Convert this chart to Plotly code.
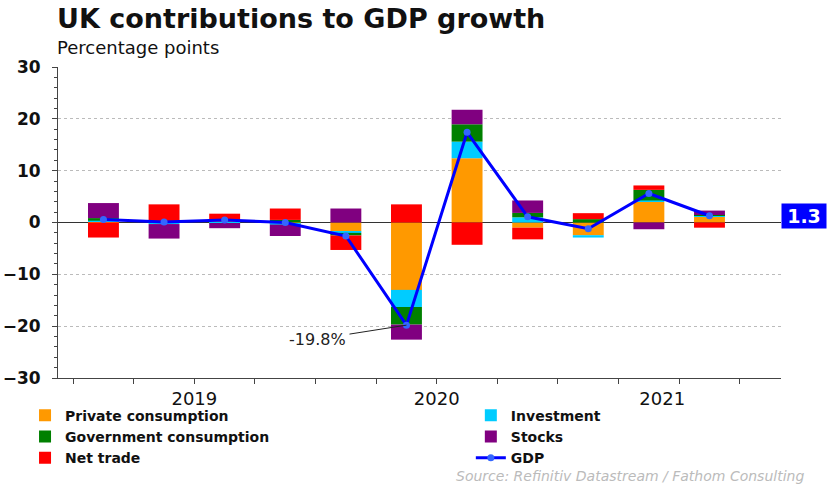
import plotly.graph_objects as go

# Quarterly contributions to UK GDP growth (percentage points), Q1 2019 - Q3 2021
quarters = ["2019 Q1", "2019 Q2", "2019 Q3", "2019 Q4",
            "2020 Q1", "2020 Q2", "2020 Q3", "2020 Q4",
            "2021 Q1", "2021 Q2", "2021 Q3"]
private_consumption = [0.1, 0.0, 0.3, -0.2, -1.7, -13.0, 12.4, -1.0, -2.45, 4.05, 1.1]
investment = [0.25, -0.3, -0.1, -0.2, -0.3, -3.3, 3.2, 1.0, -0.45, 0.2, 0.2]
government_consumption = [0.5, 0.1, 0.1, 0.5, -0.5, -3.4, 3.35, 0.85, 0.65, 2.05, 0.15]
stocks = [2.9, -2.8, -1.0, -2.2, 2.7, -2.9, 2.8, 2.4, 0.0, -1.3, 0.85]
net_trade = [-2.9, 3.4, 1.3, 2.2, -2.8, 3.5, -4.3, -2.25, 1.15, 0.85, -1.0]
gdp = [0.6, 0.1, 0.5, 0.0, -2.6, -19.8, 17.4, 1.1, -1.2, 5.6, 1.3]

year_labels = ["2019", "2020", "2021"]
year_label_pos = [2.0, 6.0, 9.72]

# quarter k is drawn centred on k + 0.5 (quarter boundaries fall on integers)
xpos = [i + 0.5 for i in range(len(quarters))]

FONT = "DejaVu Sans"

# (name, values, colour, legend column)
series = [
    ("Private consumption", private_consumption, "#FF9900", "legend"),
    ("Investment", investment, "#00CCFF", "legend2"),
    ("Government consumption", government_consumption, "#008000", "legend"),
    ("Stocks", stocks, "#800080", "legend2"),
    ("Net trade", net_trade, "#FF0000", "legend"),
]

fig = go.Figure()
for name, vals, col, leg in series:
    fig.add_trace(go.Bar(
        x=xpos, y=vals, name=name, width=0.51, legend=leg,
        marker=dict(color=col, line=dict(width=0)),
        customdata=quarters,
        hovertemplate="%{customdata}<br>" + name + ": %{y}<extra></extra>",
    ))

fig.add_trace(go.Scatter(
    x=xpos, y=gdp, name="GDP", mode="lines+markers", legend="legend2",
    line=dict(color="#0000FF", width=3),
    marker=dict(color="#3366FF", size=7),
    customdata=quarters,
    hovertemplate="%{customdata}<br>GDP: %{y}<extra></extra>",
))

# trough callout
i_min = gdp.index(min(gdp))
fig.add_annotation(
    x=xpos[i_min], y=gdp[i_min], text=f"{gdp[i_min]}%",
    showarrow=True, arrowhead=0, arrowwidth=1, arrowcolor="#222222",
    ax=-89, ay=14, borderpad=3,
    font=dict(family=FONT, size=16, color="#222222"),
)

# latest value tag on the right edge
fig.add_annotation(
    xref="paper", x=1, xanchor="left", yref="y", y=gdp[-1], yanchor="middle",
    text=f"<b>{gdp[-1]:.1f}</b>", showarrow=False,
    bgcolor="#0000FF", font=dict(family=FONT, size=19, color="white"),
    width=44, height=24, borderpad=0, align="center",
)

# title and subtitle
fig.add_annotation(
    xref="paper", x=0, xanchor="left", xshift=-3,
    yref="paper", y=1, yanchor="middle", yshift=49,
    text="<b>UK contributions to GDP growth</b>", showarrow=False,
    font=dict(family=FONT, size=27, color="#111111"),
)
fig.add_annotation(
    xref="paper", x=0, xanchor="left", xshift=-3,
    yref="paper", y=1, yanchor="middle", yshift=20,
    text="Percentage points", showarrow=False,
    font=dict(family=FONT, size=18, color="#111111"),
)

# source line
fig.add_annotation(
    xref="paper", x=1.034, xanchor="right", yref="paper", y=-0.315, yanchor="middle",
    text="Source: Refinitiv Datastream / Fathom Consulting", showarrow=False,
    font=dict(family=FONT, size=14, color="#BBBBBB", style="italic"),
)

legend_font = dict(family=FONT, size=14, color="#111111", weight="bold")
fig.update_layout(
    width=835, height=486,
    margin=dict(l=58, r=54, t=67, b=108, pad=0, autoexpand=False),
    barmode="relative",
    plot_bgcolor="white", paper_bgcolor="white",
    font=dict(family=FONT, color="#111111"),
    showlegend=True,
    legend=dict(
        orientation="v", x=-0.0456, xanchor="left", y=-0.070, yanchor="top",
        font=legend_font, bgcolor="rgba(0,0,0,0)", tracegroupgap=0,
        traceorder="normal",
    ),
    legend2=dict(
        orientation="v", x=0.571, xanchor="left", y=-0.070, yanchor="top",
        font=legend_font, bgcolor="rgba(0,0,0,0)", tracegroupgap=0,
        traceorder="normal",
    ),
)

fig.update_xaxes(
    range=[-0.25, 11.68], automargin=False,
    tickmode="array", tickvals=year_label_pos, ticktext=year_labels,
    ticks="", ticklen=0,
    tickfont=dict(family=FONT, size=18, color="#111111"),
    ticklabelstandoff=4,
    showgrid=False, zeroline=False,
    showline=True, linecolor="#444444", linewidth=1,
    minor=dict(tickmode="array", tickvals=list(range(12)), ticks="outside",
               ticklen=5, tickcolor="#444444", tickwidth=1, showgrid=False),
    fixedrange=True,
)
fig.update_yaxes(
    range=[-30, 30], tickmode="linear", tick0=0, dtick=10, automargin=False,
    ticks="outside", ticklen=5, tickcolor="#444444", tickwidth=1,
    tickfont=dict(family=FONT, size=17, color="#111111", weight="bold"),
    ticklabelstandoff=8,
    showgrid=True, gridcolor="#BBBBBB", griddash="dot", gridwidth=1,
    zeroline=True, zerolinecolor="#333333", zerolinewidth=1,
    showline=True, linecolor="#444444", linewidth=1,
    minor=dict(dtick=2, ticks="outside", ticklen=3, tickcolor="#444444",
               tickwidth=1, showgrid=False),
    fixedrange=True,
)

fig.write_html("out.html", config={"displayModeBar": False})
